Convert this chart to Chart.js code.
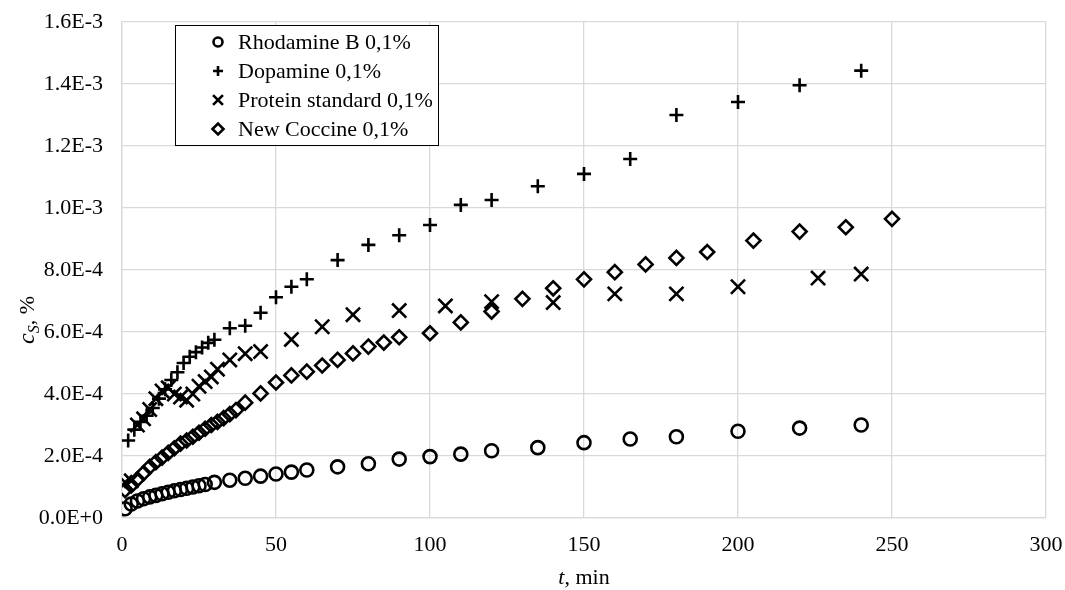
<!DOCTYPE html>
<html><head><meta charset="utf-8">
<script src="https://cdn.jsdelivr.net/npm/chart.js@4/dist/chart.umd.min.js"></script>
<style>html,body{margin:0;padding:0;background:#fff}</style>
</head><body>
<canvas id="c" width="1065" height="590"></canvas>
<script>
// values of c_S are given in units of 1e-4 %
const UNIT = 1e-4;
const seriesNames = ['Rhodamine B 0,1%', 'Dopamine 0,1%', 'Protein standard 0,1%', 'New Coccine 0,1%'];

const rhodamineT = [1,3,5,7,9,11,13,15,17,19,21,23,25,27,30,35,40,45,50,55,60,70,80,90,100,110,120,135,150,165,180,200,220,240];
const rhodamineC = [0.3,0.45,0.55,0.62,0.68,0.73,0.78,0.83,0.88,0.92,0.96,1.0,1.04,1.08,1.15,1.22,1.28,1.35,1.42,1.48,1.55,1.65,1.75,1.9,1.98,2.06,2.17,2.27,2.43,2.55,2.62,2.8,2.9,3.0];

const dopamineT = [2,4,6,8,10,12,14,16,18,20,22,24,26,28,30,35,40,45,50,55,60,70,80,90,100,110,120,135,150,165,180,200,220,240];
const dopamineC = [2.5,2.85,3.1,3.3,3.55,3.85,4.15,4.45,4.7,5.0,5.2,5.35,5.5,5.65,5.75,6.12,6.2,6.62,7.12,7.46,7.7,8.32,8.81,9.12,9.45,10.1,10.26,10.7,11.1,11.58,13.0,13.42,13.96,14.43];

const proteinT = [1,3,5,7,9,11,13,15,17,19,21,23,25,27,29,31,35,40,45,55,65,75,90,105,120,140,160,180,200,226,240];
const proteinC = [1.15,1.2,3.0,3.2,3.5,3.85,4.1,4.2,4.0,3.9,3.8,4.0,4.25,4.4,4.55,4.8,5.1,5.3,5.37,5.76,6.17,6.56,6.69,6.84,6.98,6.95,7.23,7.23,7.46,7.74,7.87];

const coccineT = [1,3,5,7,9,11,13,15,17,19,21,23,25,27,29,31,33,35,37,40,45,50,55,60,65,70,75,80,85,90,100,110,120,130,140,150,160,170,180,190,205,220,235,250];
const coccineC = [0.9,1.05,1.25,1.45,1.65,1.8,1.95,2.1,2.25,2.4,2.5,2.62,2.75,2.88,3.0,3.1,3.22,3.35,3.48,3.72,4.02,4.37,4.6,4.72,4.92,5.1,5.31,5.53,5.66,5.83,5.96,6.31,6.66,7.07,7.41,7.7,7.93,8.18,8.39,8.58,8.95,9.24,9.38,9.65];

const xTicks = [0,50,100,150,200,250,300];
const yTickLabels = ['0.0E+0','2.0E-4','4.0E-4','6.0E-4','8.0E-4','1.0E-3','1.2E-3','1.4E-3','1.6E-3'];

const FONT = '"Liberation Serif", "Times New Roman", serif';
const toPts = (ts, cs) => ts.map((t, i) => ({x: t, y: cs[i] * UNIT}));

const styles = [
  {pointStyle: 'circle', radius: 6.5, lr: 4.5},
  {pointStyle: 'cross', radius: 7, lr: 5},
  {pointStyle: 'crossRot', radius: 10, lr: 7},
  {pointStyle: 'rectRot', radius: 7, lr: 5.5}
];
const allData = [toPts(rhodamineT, rhodamineC), toPts(dopamineT, dopamineC), toPts(proteinT, proteinC), toPts(coccineT, coccineC)];

const datasets = allData.map((d, i) => ({
  label: seriesNames[i],
  data: d,
  showLine: false,
  pointStyle: styles[i].pointStyle,
  pointRadius: styles[i].radius,
  pointHoverRadius: styles[i].radius,
  pointBorderColor: '#000',
  pointBackgroundColor: 'rgba(0,0,0,0)',
  pointBorderWidth: 2.6,
  order: 4 - i
}));

const customPlugin = {
  id: 'custom',
  afterDraw(chart) {
    const ctx = chart.ctx;
    const ca = chart.chartArea;
    ctx.save();
    // legend
    const bx = 175.5, by = 25.5, bw = 263, bh = 120;
    ctx.fillStyle = '#fff';
    ctx.fillRect(bx, by, bw, bh);
    ctx.strokeStyle = '#000';
    ctx.lineWidth = 1;
    ctx.strokeRect(bx, by, bw, bh);
    const rows = [42, 71, 100, 129];
    seriesNames.forEach((name, i) => {
      ctx.strokeStyle = '#000';
      ctx.fillStyle = 'rgba(0,0,0,0)';
      ctx.lineWidth = 2.6;
      Chart.helpers.drawPoint(ctx, {pointStyle: styles[i].pointStyle, rotation: 0, radius: styles[i].lr, borderWidth: 2.6}, 218, rows[i]);
      ctx.font = '22px ' + FONT;
      ctx.textBaseline = 'middle';
      ctx.textAlign = 'left';
      ctx.fillStyle = '#000';
      ctx.fillText(name, 238, rows[i] + 1);
    });
    // x title: t, min
    ctx.fillStyle = '#000';
    ctx.textBaseline = 'alphabetic';
    const cx = (ca.left + ca.right) / 2;
    ctx.font = 'italic 22px ' + FONT;
    const w1 = ctx.measureText('t').width;
    ctx.font = '22px ' + FONT;
    const w2 = ctx.measureText(', min').width;
    let sx = cx - (w1 + w2) / 2;
    const ty = 584;
    ctx.font = 'italic 22px ' + FONT;
    ctx.fillText('t', sx, ty);
    ctx.font = '22px ' + FONT;
    ctx.fillText(', min', sx + w1, ty);
    // y title: c_S, %
    ctx.translate(34, 320);
    ctx.rotate(-Math.PI / 2);
    ctx.font = 'italic 24px ' + FONT;
    const a = ctx.measureText('c').width;
    ctx.font = 'italic 16px ' + FONT;
    const b = ctx.measureText('S').width;
    ctx.font = '22px ' + FONT;
    const c2 = ctx.measureText(', %').width;
    let px = -(a + b + c2) / 2;
    ctx.font = 'italic 24px ' + FONT;
    ctx.fillText('c', px, 0);
    ctx.font = 'italic 16px ' + FONT;
    ctx.fillText('S', px + a, 5);
    ctx.font = '22px ' + FONT;
    ctx.fillText(', %', px + a + b, 0);
    ctx.restore();
  }
};

new Chart(document.getElementById('c'), {
  type: 'scatter',
  data: {datasets},
  plugins: [customPlugin],
  options: {
    responsive: false,
    animation: false,
    devicePixelRatio: 1,
    layout: {padding: {left: 0, right: 19, top: 22, bottom: 0}},
    plugins: {legend: {display: false}, tooltip: {enabled: false}},
    scales: {
      x: {
        type: 'linear', min: 0, max: 300,
        afterBuildTicks: s => { s.ticks = xTicks.map(v => ({value: v})); },
        afterFit: s => { s.height = 72; s.paddingLeft = 0; s.paddingRight = 0; },
        grid: {color: '#d9d9d9', lineWidth: 1.3, drawTicks: false},
        border: {color: '#d9d9d9', width: 1.3},
        ticks: {padding: 14, color: '#000', font: {family: FONT, size: 22}, maxRotation: 0}
      },
      y: {
        type: 'linear', min: 0, max: 0.0016,
        afterBuildTicks: s => { s.ticks = yTickLabels.map((l, i) => ({value: i * 2 * UNIT})); },
        afterFit: s => { s.width = 122; s.paddingTop = 0; s.paddingBottom = 0; },
        grid: {color: '#d9d9d9', lineWidth: 1.3, drawTicks: false},
        border: {color: '#d9d9d9', width: 1.3},
        ticks: {padding: 19, color: '#000', font: {family: FONT, size: 22},
          callback: (v, i) => yTickLabels[i]}
      }
    }
  }
});
</script>
</body></html>
